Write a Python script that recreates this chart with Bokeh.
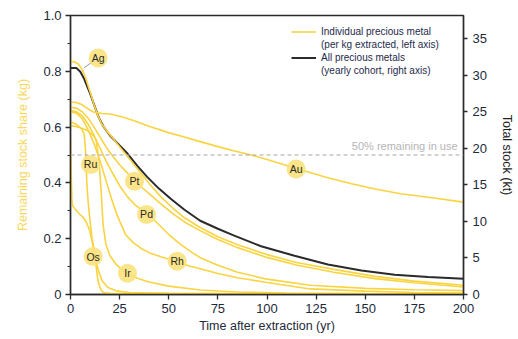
from bokeh.plotting import figure
from bokeh.models import (Range1d, LinearAxis, FixedTicker, CustomJSTickFormatter,
                          Legend, LegendItem, Label, Span, ColumnDataSource)
from bokeh.core.properties import value
from bokeh.embed import file_html
from bokeh.resources import INLINE

FONT = "Liberation Sans"
YELLOW = "#f9d440"
BLACK = "#2b2b2b"

# ---- data: remaining stock share (kg per kg extracted) ----
ag_t = [0, 2, 4, 6, 8, 10, 12, 14, 16, 18, 21, 25, 29, 33, 37, 41, 46, 52, 58, 66, 75, 85, 100, 115, 134, 155, 175, 200]
ag_v = [0.835, 0.834, 0.826, 0.805, 0.77, 0.725, 0.68, 0.64, 0.61, 0.59, 0.565, 0.53, 0.495, 0.46, 0.425, 0.39, 0.35, 0.31, 0.275, 0.24, 0.207, 0.178, 0.143, 0.115, 0.09, 0.065, 0.048, 0.033]

au_t = [0, 3, 6, 9, 12, 16, 20, 26, 32, 40, 49, 57, 66, 75, 83, 92, 100, 115, 130, 143, 155, 168, 185, 200]
au_v = [0.689, 0.688, 0.68, 0.665, 0.653, 0.649, 0.647, 0.637, 0.624, 0.603, 0.582, 0.566, 0.548, 0.53, 0.515, 0.5, 0.484, 0.452, 0.42, 0.397, 0.378, 0.361, 0.346, 0.331]

pt_t = [0, 3, 6, 9, 12, 15, 18, 21, 25, 29, 33, 37, 41, 46, 52, 58, 66, 75, 85, 100, 115, 134, 155, 175, 200]
pt_v = [0.671, 0.668, 0.655, 0.632, 0.6, 0.565, 0.53, 0.5, 0.465, 0.435, 0.405, 0.38, 0.355, 0.325, 0.29, 0.26, 0.229, 0.197, 0.168, 0.133, 0.106, 0.08, 0.057, 0.042, 0.027]

pd_t = [0, 3, 6, 9, 12, 15, 18, 21, 25, 29, 33, 37, 40, 45, 50, 56, 62, 66, 75, 85, 100, 122, 150, 175, 200]
pd_v = [0.66, 0.655, 0.64, 0.61, 0.57, 0.525, 0.48, 0.44, 0.39, 0.35, 0.32, 0.3, 0.285, 0.25, 0.215, 0.18, 0.15, 0.132, 0.105, 0.08, 0.055, 0.033, 0.022, 0.017, 0.014]

rh_t = [0, 3, 6, 9, 12, 15, 18, 21, 24, 28, 32, 36, 40, 46, 54, 60, 66, 75, 85, 100, 122, 150, 175, 200]
rh_v = [0.655, 0.65, 0.63, 0.59, 0.54, 0.48, 0.41, 0.34, 0.28, 0.215, 0.185, 0.165, 0.15, 0.135, 0.118, 0.103, 0.092, 0.075, 0.06, 0.043, 0.02, 0.012, 0.007, 0.005]

ir_t = [0, 4, 8, 11, 13, 14.5, 15.5, 16.6, 18, 20, 23, 26, 29, 34, 40, 50, 66, 85, 110, 150, 200]
ir_v = [0.606, 0.6, 0.59, 0.575, 0.555, 0.48, 0.38, 0.25, 0.18, 0.14, 0.11, 0.09, 0.075, 0.058, 0.045, 0.03, 0.016, 0.009, 0.005, 0.003, 0.002]

ru_t = [0, 3, 5.5, 7, 7.8, 8.3, 9, 10, 11, 12.5, 14, 16, 19, 24, 30, 50, 100, 200]
ru_v = [0.618, 0.61, 0.595, 0.575, 0.5, 0.4, 0.33, 0.26, 0.2, 0.14, 0.09, 0.05, 0.025, 0.012, 0.007, 0.004, 0.002, 0.001]

os_t = [0, 0.3, 0.7, 1, 3, 5, 6.4, 8, 9.8, 11, 11.5, 12.2, 12.9, 13.5, 14, 15, 15.8, 17, 20, 50, 200]
os_v = [0.56, 0.45, 0.34, 0.319, 0.3, 0.285, 0.277, 0.26, 0.229, 0.19, 0.17, 0.14, 0.11, 0.075, 0.05, 0.025, 0.014, 0.007, 0.004, 0.003, 0.002]

# ---- data: total stock of all precious metals (kt, right axis) ----
all_t = [0, 3, 5, 7, 10, 12, 14, 15, 17, 20, 25, 29, 34, 39, 45, 51, 58, 66, 75, 83, 97, 114, 131, 148, 165, 182, 200]
all_kt = [31.0, 31.0, 30.5, 29.5, 27.5, 26.0, 24.5, 23.9, 22.9, 21.8, 20.4, 19.3, 17.6, 16.1, 14.5, 13.1, 11.6, 10.1, 9.0, 8.1, 6.6, 5.3, 4.1, 3.3, 2.7, 2.4, 2.15]

# ---- element labels ----
elem_names = ["Ag", "Ru", "Pt", "Pd", "Os", "Ir", "Rh", "Au"]
elem_x = [14.1, 10.2, 32.6, 38.7, 11.5, 29.0, 54.3, 114.8]
elem_y = [0.848, 0.466, 0.406, 0.287, 0.136, 0.076, 0.119, 0.45]
ag_leader_x = [6.8, 11.0]
ag_leader_y = [0.812, 0.833]

x_ticks = [0, 25, 50, 75, 100, 125, 150, 175, 200]
left_ticks = [0, 0.2, 0.4, 0.6, 0.8, 1.0]
left_minor = [0.1, 0.3, 0.5, 0.7, 0.9]
right_ticks = [0, 5, 10, 15, 20, 25, 30, 35]
half_level = 0.5

p = figure(width=518, height=339, output_backend="svg", toolbar_location=None,
           x_range=Range1d(0, 200), y_range=Range1d(0, 1.0),
           min_border_left=70, min_border_right=55, min_border_top=15, min_border_bottom=45)
p.background_fill_color = "white"
p.border_fill_color = "white"
p.grid.visible = False
p.outline_line_color = BLACK
p.outline_line_width = 1.3

p.extra_y_ranges = {"stock": Range1d(0, 38.2)}

# dashed 50% line
p.add_layout(Span(location=half_level, dimension="width", line_color="#a8a8a8",
                  line_dash="4 3", line_width=1.2))
p.add_layout(Label(x=197, y=0.534, text="50% remaining in use", text_align="right",
                   text_baseline="middle", text_color="#b5b5b5", text_font=FONT,
                   text_font_size="11px"))

blk = p.line(all_t, all_kt, y_range_name="stock", line_color=BLACK, line_width=2)

series = [(ag_t, ag_v), (au_t, au_v), (pt_t, pt_v), (pd_t, pd_v), (rh_t, rh_v),
          (ir_t, ir_v), (ru_t, ru_v), (os_t, os_v)]
yl = []
for t, v in series:
    yl.append(p.line(t, v, line_color=YELLOW, line_width=1.6))

p.line(ag_leader_x, ag_leader_y, line_color="#9a9a9a", line_width=1)

src = ColumnDataSource(dict(x=elem_x, y=elem_y, name=elem_names))
p.scatter("x", "y", source=src, size=19, fill_color="#fbe27e", fill_alpha=0.9, line_color=None)
p.text("x", "y", text="name", source=src, text_align="center", text_baseline="middle",
       text_font=value(FONT), text_font_size="10.5px", text_color="#2a2a2a")

# axes styling
def style(ax):
    ax.axis_line_color = BLACK
    ax.axis_line_width = 1.5
    ax.major_tick_line_color = BLACK
    ax.major_tick_line_width = 1.3
    ax.minor_tick_line_color = BLACK
    ax.major_tick_in = 0
    ax.major_tick_out = 5
    ax.minor_tick_in = 0
    ax.minor_tick_out = 3
    ax.major_label_text_font = FONT
    ax.major_label_text_font_size = "13px"
    ax.major_label_text_color = "#1e2a3a"
    ax.axis_label_text_font = FONT
    ax.axis_label_text_font_size = "12.5px"
    ax.axis_label_text_font_style = "normal"

xa = p.xaxis[0]
style(xa)
xa.ticker = FixedTicker(ticks=x_ticks)
xa.axis_label = "Time after extraction (yr)"
xa.axis_label_text_color = "#1e2a3a"
xa.axis_label_standoff = 3
xa.major_label_standoff = 4

ya = p.yaxis[0]
style(ya)
ya.ticker = FixedTicker(ticks=left_ticks, minor_ticks=left_minor)
ya.formatter = CustomJSTickFormatter(code="return tick == 0 ? '0' : tick.toFixed(1);")
ya.axis_label = "Remaining stock share (kg)"
ya.axis_label_text_color = "#f9d862"
ya.axis_label_standoff = 10
ya.major_label_standoff = 4

ra = LinearAxis(y_range_name="stock", ticker=FixedTicker(ticks=right_ticks),
                axis_label="Total stock (kt)")
style(ra)
ra.major_tick_out = 4
ra.axis_label_text_color = "#1e1e1e"
ra.axis_label_standoff = 10
ra.major_label_standoff = 5
p.add_layout(ra, "right")

# legend
blank1 = p.line([], [], line_alpha=0)
items = [
    LegendItem(label="Individual precious metal", renderers=[yl[1]]),
    LegendItem(label="(per kg extracted, left axis)", renderers=[blank1]),
    LegendItem(label="All precious metals", renderers=[blk]),
    LegendItem(label="(yearly cohort, right axis)", renderers=[blank1]),
]
leg = Legend(items=items, location=(221, 217), padding=0, margin=0, spacing=0,
             border_line_color=None, background_fill_alpha=0,
             glyph_width=25, glyph_height=13, label_height=13, label_standoff=5,
             label_text_font=FONT, label_text_font_size="10px", label_text_color="#1e2a4a")
p.add_layout(leg, "center")

open("out.html", "w").write(file_html(p, INLINE))
